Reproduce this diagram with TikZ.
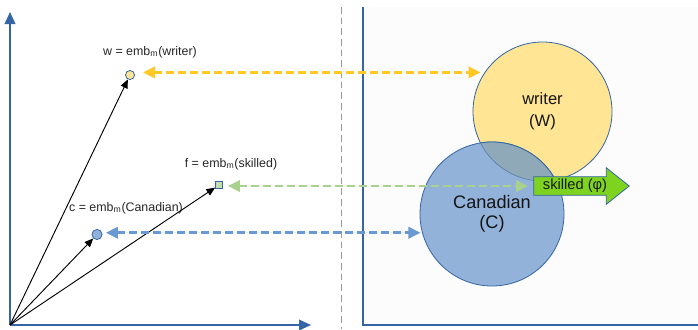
\documentclass[tikz,border=0pt]{standalone}
\usepackage{fontspec}
\setmainfont{Liberation Sans}
\usetikzlibrary{arrows.meta}
\definecolor{axisblue}{HTML}{3465A4}
\definecolor{panelbg}{HTML}{FCFCFC}
\definecolor{wfill}{HTML}{FFE594}
\definecolor{cfill}{HTML}{92B2D9}
\definecolor{ovfill}{HTML}{8FA9B8}
\definecolor{ydash}{HTML}{FFC825}
\definecolor{gdash}{HTML}{A9D18E}
\definecolor{bdash}{HTML}{6A98D0}
\definecolor{sqfill}{HTML}{C5DDB0}
\definecolor{skfill}{HTML}{7ED321}
\definecolor{vline}{HTML}{9A9A9A}
\begin{document}
\begin{tikzpicture}[x=0.75pt,y=-0.75pt,
  axis/.style={draw=axisblue,line width=1.1pt,-{Triangle[length=9pt,width=8pt]}},
  vec/.style={draw=black,line width=0.7pt,-{Triangle[length=6.5pt,width=5.5pt]}},
  dashy/.style={line width=1.9pt,dash pattern=on 6pt off 3pt,
     {Triangle[length=9pt,width=8.5pt]}-{Triangle[length=9pt,width=8.5pt]}},
  lbl/.style={font=\fontsize{9.3}{11}\selectfont,text=black!85,inner sep=0pt},
  big/.style={align=center,text=black!92},
  dotnode/.style={inner sep=0pt,draw=axisblue,line width=0.6pt}
]
\useasboundingbox (0,0) rectangle (698,329);
% right panel
\fill[panelbg] (363,7) rectangle (698,325);
\draw[axisblue,line width=1.1pt] (363,7) -- (363,325) -- (698,325);
% separator
\draw[vline,line width=0.75pt,dash pattern=on 5pt off 3pt] (341,7) -- (341,329);
% axes
\coordinate (O) at (10,325);
\coordinate (ytip) at (10,12);
\coordinate (xtip) at (311,325);
\draw[axis] (O) -- (ytip);
\draw[axis] (O) -- (xtip);
% points
\node[dotnode,circle,fill=wfill,minimum size=6.8pt] (wpt) at (130,75) {};
\node[dotnode,rectangle,fill=sqfill,minimum size=5.2pt] (fpt) at (219,185) {};
\node[dotnode,circle,fill=cfill,minimum size=7.6pt] (cpt) at (97,234.5) {};
% labels
\node[lbl] (wlbl) at (150,52) {w = emb\textsubscript{m}(writer)};
\node[lbl] (flbl) at (231,164) {f = emb\textsubscript{m}(skilled)};
\node[lbl] (clbl) at (126,208) {c = emb\textsubscript{m}(Canadian)};
% vectors
\draw[vec] (O) -- (wpt);
\draw[vec] (O) -- (fpt);
\draw[vec] (O) -- (cpt);
% circles
\node[circle,inner sep=0pt,minimum size=104.25pt,draw=axisblue,line width=0.6pt,fill=wfill,
      big,font=\fontsize{12.4}{16.5}\selectfont] (writer) at (542.5,111.5) {writer\\(W)};
\node[circle,inner sep=0pt,minimum size=108pt,draw=axisblue,line width=0.6pt,fill=cfill,
      big,font=\fontsize{13.6}{15.2}\selectfont] (canadian) at (492,214) {Canadian\\(C)};
\begin{scope}
  \clip (542.5,111.5) circle[radius=52.125pt];
  \fill[ovfill] (492,214) circle[radius=54pt];
  \draw[axisblue,line width=0.6pt] (492,214) circle[radius=54pt];
\end{scope}
\begin{scope}
  \clip (492,214) circle[radius=54pt];
  \draw[axisblue!60!ovfill,line width=0.5pt] (542.5,111.5) circle[radius=52.125pt];
\end{scope}
% skilled arrow
\node[inner sep=0pt,minimum width=54pt,minimum height=13.5pt] (skilled) at (570,186) {};
\draw[axisblue,line width=0.6pt,fill=skfill]
  (skilled.north west) -- (skilled.north east) -- ++(0,6.75pt) -- ([xshift=17.25pt]skilled.east)
  -- ([yshift=-6.75pt]skilled.south east) -- (skilled.south east) -- (skilled.south west) -- cycle;
\node[inner sep=0pt,font=\fontsize{11}{13}\selectfont,text=black!90] (sklbl) at (575,186) {skilled (φ)};
% dashed correspondences
\draw[dashy,draw=ydash,fill=ydash,shorten <=6pt,shorten >=3pt] (wpt.east |- writer.146) -- (writer.146);
\draw[dashy,draw=gdash,fill=gdash,shorten <=3.8pt,shorten >=4.3pt] (fpt.east |- skilled.west) -- (skilled.west);
\draw[dashy,draw=bdash,fill=bdash,shorten <=2.6pt,shorten >=1.2pt] (cpt.east |- canadian.195) -- (canadian.195);
\end{tikzpicture}
\end{document}
